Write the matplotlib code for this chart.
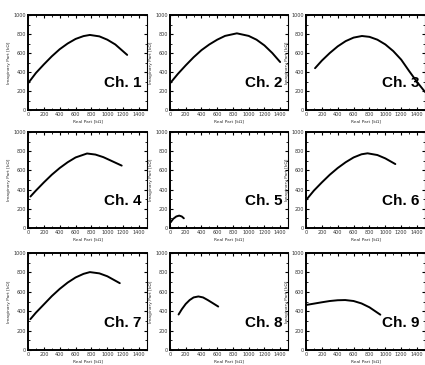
import matplotlib.pyplot as plt
from matplotlib.ticker import MultipleLocator

# real / imaginary parts (kOhm)
ch1_re = [0, 100, 200, 300, 400, 500, 600, 700, 780, 900, 1000, 1100, 1250]
ch1_im = [280, 390, 480, 565, 640, 700, 748, 778, 790, 775, 740, 690, 580]
ch2_re = [0, 100, 200, 300, 400, 500, 600, 700, 850, 1000, 1100, 1200, 1300, 1400]
ch2_im = [280, 380, 470, 555, 630, 690, 740, 780, 807, 780, 740, 680, 600, 505]
ch3_re = [114, 200, 300, 400, 500, 600, 705, 800, 900, 1000, 1100, 1200, 1300, 1400, 1500]
ch3_im = [440, 520, 600, 670, 725, 762, 779, 770, 740, 690, 620, 530, 410, 295, 190]
ch4_re = [31, 100, 200, 300, 400, 500, 600, 744, 850, 950, 1050, 1181]
ch4_im = [328, 390, 475, 555, 625, 685, 735, 776, 765, 738, 700, 650]
ch5_re = [8, 40, 80, 117, 150, 176]
ch5_im = [59, 95, 120, 129, 120, 101]
ch6_re = [0, 100, 200, 300, 400, 500, 600, 700, 776, 900, 1000, 1126]
ch6_im = [290, 390, 475, 555, 625, 685, 735, 768, 778, 760, 725, 666]
ch7_re = [30, 100, 200, 300, 400, 500, 600, 700, 780, 900, 1000, 1157]
ch7_im = [318, 385, 470, 555, 630, 695, 748, 785, 803, 790, 760, 689]
ch8_re = [109, 150, 200, 250, 300, 361, 420, 480, 540, 613]
ch8_im = [366, 420, 475, 515, 542, 552, 542, 515, 485, 448]
ch9_re = [0, 100, 200, 300, 400, 494, 600, 700, 800, 937]
ch9_im = [464, 478, 492, 505, 513, 515, 505, 480, 440, 364]

channels = ['Ch. 1', 'Ch. 2', 'Ch. 3', 'Ch. 4', 'Ch. 5', 'Ch. 6', 'Ch. 7', 'Ch. 8', 'Ch. 9']
reals = [ch1_re, ch2_re, ch3_re, ch4_re, ch5_re, ch6_re, ch7_re, ch8_re, ch9_re]
imags = [ch1_im, ch2_im, ch3_im, ch4_im, ch5_im, ch6_im, ch7_im, ch8_im, ch9_im]

W, H = 425, 365
fig = plt.figure(figsize=(W / 100, H / 100), dpi=100)

col_left = [28, 170, 306]
col_width = [119, 118, 119]
row_top = [15, 132, 253]
row_height = [95, 96, 97]

for i in range(9):
    r, c = divmod(i, 3)
    ax = fig.add_axes([col_left[c] / W, 1 - (row_top[r] + row_height[r]) / H,
                       col_width[c] / W, row_height[r] / H])
    ax.plot(reals[i], imags[i], color='black', lw=1.4, solid_capstyle='round')
    ax.set_xlim(0, 1500)
    ax.set_ylim(0, 1000)
    ax.set_xticks(range(0, 1401, 200))
    ax.set_yticks(range(0, 1001, 200))
    ax.xaxis.set_minor_locator(MultipleLocator(100))
    ax.yaxis.set_minor_locator(MultipleLocator(100))
    ax.tick_params(which='both', direction='in', top=True, right=True,
                   labelsize=3.5, labelcolor='#333333', pad=1.5)
    ax.tick_params(which='major', length=2.5, width=0.8)
    ax.tick_params(which='minor', length=1.5, width=0.6)
    for s in ['left', 'bottom', 'top']:
        ax.spines[s].set_linewidth(1.4)
    ax.spines['right'].set_linewidth(0.8)
    ax.set_xlabel('Real Part [kΩ]', fontsize=3.2, labelpad=2, color='#333333')
    ax.set_ylabel('Imaginary Part [kΩ]', fontsize=3.2, labelpad=2, color='#333333')
    ax.text(1435, 280, channels[i], ha='right', va='center', fontsize=11,
            fontweight='bold', family='Liberation Sans')

fig.savefig('out.png', dpi=100)
